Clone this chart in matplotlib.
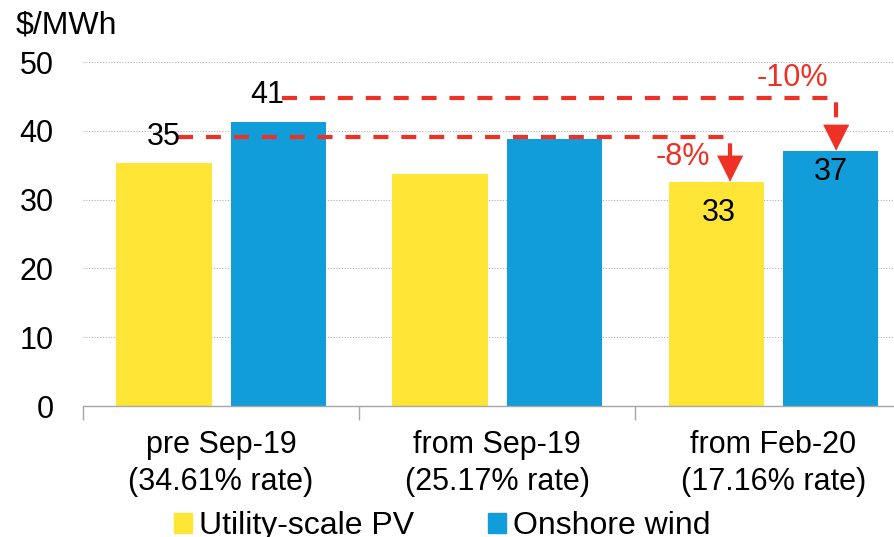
import matplotlib.pyplot as plt
import numpy as np
from matplotlib.patches import Patch

# data
categories = ['pre Sep-19\n(34.61% rate)', 'from Sep-19\n(25.17% rate)', 'from Feb-20\n(17.16% rate)']
pv = [35.3, 33.7, 32.6]
wind = [41.3, 38.8, 37.1]
pv_labels = ['35', '', '33']
wind_labels = ['41', '', '37']
pv_change = '-8%'
wind_change = '-10%'
series_names = ['Utility-scale PV', 'Onshore wind']

yellow = '#FFE535'
blue = '#109DD9'
red = '#EE3124'

plt.rcParams['font.family'] = ['Liberation Sans', 'DejaVu Sans']

fig = plt.figure(figsize=(8.95, 5.37), dpi=100)
ax = fig.add_axes([83 / 895, 1 - 406 / 537, 1 - 83 / 895, (406 - 62) / 537])

x = np.arange(len(categories))
off = 0.207
w = 0.345
ax.bar(x - off, pv, w, color=yellow, zorder=2)
ax.bar(x + off, wind, w, color=blue, zorder=2)

ax.set_yticks(range(0, 51, 10))
ax.yaxis.grid(True, linestyle=(0, (1, 1.5)), color='#B0B0B0', lw=0.8, zorder=0)
for s in ['top', 'right', 'left']:
    ax.spines[s].set_visible(False)
ax.spines['bottom'].set_color('#A6A6A6')
ax.spines['bottom'].set_linewidth(1)

ax.set_xticks(x)
ax.set_xticklabels(categories, fontsize=22, linespacing=1.32)
ax.set_xticks([-0.5, 0.5, 1.5], minor=True)
ax.tick_params(axis='x', which='major', length=0, pad=17)
ax.tick_params(axis='x', which='minor', length=10, color='#A6A6A6', width=1)
ax.tick_params(axis='y', length=0, pad=21, labelsize=22)
ax.set_ylim(0, 50)
ax.set_xlim(-0.5, 2.44)

fig.text(16 / 895, 1 - 11 / 537, '$/MWh', fontsize=23, va='top', ha='left')

# change annotations
lw = 3.0
dash = (0, (3.6, 3.1))
low_y = 39.1
high_y = 44.8
head = 3.6

# PV: pre Sep-19 -> from Feb-20
x0 = x[0] - off
x1 = x[2] - off + 0.05
ax.text(x0, low_y, pv_labels[0], fontsize=22, ha='center', va='center', zorder=4)
ax.plot([x0 + 0.05, x1, x1], [low_y, low_y, pv[2] + head], color=red, lw=lw,
        linestyle=dash, clip_on=False, zorder=3)
ax.annotate('', xy=(x1, pv[2]), xytext=(x1, pv[2] + head),
            arrowprops=dict(arrowstyle='-|>,head_length=1.8,head_width=0.9',
                            color=red, lw=0.5, shrinkA=0, shrinkB=0, mutation_scale=10))
ax.text(x1 - 0.17, 36.2, pv_change, fontsize=22, color=red, ha='center', va='center')
ax.text(x[2] - off + 0.01, 28.0, pv_labels[2], fontsize=22, ha='center', va='center')

# wind: pre Sep-19 -> from Feb-20
x0 = x[0] + off
x1 = x[2] + off + 0.02
ax.text(x0 + 0.02, 45.2, wind_labels[0], fontsize=22, ha='right', va='center', zorder=4)
ax.plot([x0 + 0.015, x1, x1], [high_y, high_y, wind[2] + head], color=red, lw=lw,
        linestyle=dash, clip_on=False, zorder=3)
ax.annotate('', xy=(x1, wind[2]), xytext=(x1, wind[2] + head),
            arrowprops=dict(arrowstyle='-|>,head_length=1.8,head_width=0.9',
                            color=red, lw=0.5, shrinkA=0, shrinkB=0, mutation_scale=10))
ax.text(x1 - 0.16, 47.7, wind_change, fontsize=22, color=red, ha='center', va='center')
ax.text(x[2] + off, 34.0, wind_labels[2], fontsize=22, ha='center', va='center')

handles = [Patch(color=yellow), Patch(color=blue)]
fig.legend(handles, series_names, loc='center', bbox_to_anchor=(0.494, 0.02),
           ncol=2, frameon=False, fontsize=23, handlelength=0.56, handleheight=0.56,
           handletextpad=0.22, columnspacing=2.3)

fig.savefig('out.png', dpi=100)
